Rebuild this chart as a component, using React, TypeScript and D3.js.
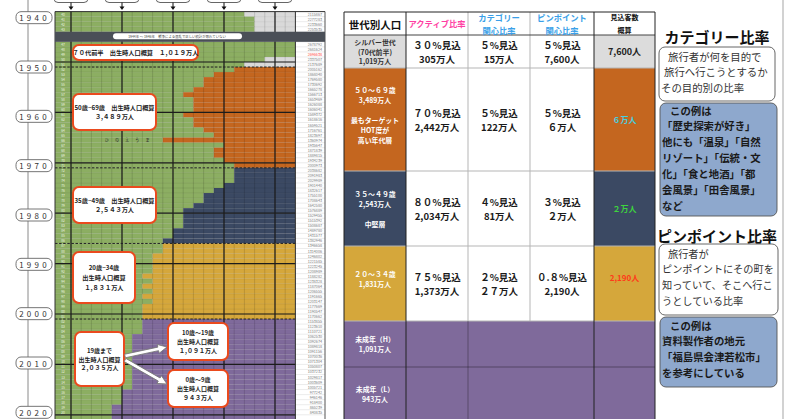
import React from 'react';
import * as d3 from 'd3';

// ---------- DATA ----------
const birthYears = [1940, 1941, 1942, 1943, 1947, 1948, 1949, 1950, 1951, 1952, 1953, 1954, 1955, 1956, 1957, 1958, 1959, 1960, 1961, 1962, 1963, 1964, 1965, 1966, 1967, 1968, 1969, 1970, 1971, 1972, 1973, 1974, 1975, 1976, 1977, 1978, 1979, 1980, 1981, 1982, 1983, 1984, 1985, 1986, 1987, 1988, 1989, 1990, 1991, 1992, 1993, 1994, 1995, 1996, 1997, 1998, 1999, 2000, 2001, 2002, 2003, 2004, 2005, 2006, 2007, 2008, 2009, 2010, 2011, 2012, 2013, 2014, 2015, 2016, 2017, 2018, 2019, 2020, 2021, 2022];
const birthCounts = [2115867, 2277283, 2233660, 2253535, 2678792, 2681624, 2696638, 2337507, 2137689, 2005162, 1868040, 1769580, 1730692, 1665278, 1566713, 1653469, 1626088, 1606041, 1589372, 1618616, 1659521, 1716761, 1823697, 1360974, 1935647, 1871839, 1889815, 1934239, 2000973, 2038682, 2091983, 2029989, 1901440, 1832617, 1755100, 1708643, 1642580, 1576889, 1529455, 1515392, 1508687, 1489780, 1431577, 1382946, 1346658, 1314006, 1246802, 1221585, 1223245, 1208989, 1188282, 1238328, 1187064, 1206555, 1191665, 1203147, 1177669, 1190547, 1170662, 1153855, 1123610, 1110721, 1062530, 1092674, 1089818, 1091156, 1070036, 1071304, 1050807, 1037232, 1029817, 1003609, 1005721, 977242, 946146, 918400, 865239, 840835, 811622, 770759];

const groupKeys = ['silver', 'g50', 'g35', 'g20', 'g0'];
const groupStart = [1940, 1952, 1972, 1987, 2002];
const groupEnd = [1951, 1971, 1986, 2001, 2022];

const yearTicks = [1940, 1950, 1960, 1970, 1980, 1990, 2000, 2010, 2020];
const hinoeumaChars = ['ひ', 'の', 'え', 'う', 'ま'];
const bandLabel = '1944年 ～ 1946年　戦争による混乱で正しい統計が取れていない';

const annoSilver = ['７０代前半　出生時人口概算　１,０１９万人'];
const anno50 = ['50歳~69歳　出生時人口概算', '３,４８９万人'];
const anno35 = ['35歳~49歳　出生時人口概算', '２,５４３万人'];
const anno20 = ['20歳~34歳', '出生時人口概算', '１,８３１万人'];
const anno0 = ['19歳まで', '出生時人口概算', '２,０３５万人'];
const anno10H = ['10歳～19歳', '出生時人口概算', '１,０９１万人'];
const anno0L = ['0歳～9歳', '出生時人口概算', '９４３万人'];

const tableHeaders = [['世代別人口'], ['アクティブ比率'], ['カテゴリー', '関心比率'], ['ピンポイント', '関心比率'], ['見込客数', '概算']];
const generationLabels = [
  ['シルバー世代', '(70代前半)', '1,019万人'],
  ['５０～６９歳', '3,489万人', '', '最もターゲット', 'HOT度が', '高い年代層', ''],
  ['３５～４９歳', '2,543万人', '', '中堅層'],
  ['２０～３４歳', '1,831万人', ''],
  ['未成年（H）', '1,091万人'],
  ['未成年（L）', '943万人'],
];
const activeRates = ['３０％見込', '７０％見込', '８０％見込', '７５％見込'];
const activeCounts = ['305万人', '2,442万人', '2,034万人', '1,373万人'];
const categoryRates = ['５%見込', '５%見込', '４%見込', '２%見込'];
const categoryCounts = ['15万人', '122万人', '81万人', '２７万人'];
const pinpointRates = ['５%見込', '５%見込', '３%見込', '０.８%見込'];
const pinpointCounts = ['7,600人', '６万人', '２万人', '2,190人'];
const prospectCounts = ['7,600人', '６万人', '２万人', '2,190人'];

const catTitle = 'カテゴリー比率';
const catDesc = ['旅行者が何を目的で', '旅行へ行こうとするか', 'その目的別の比率'];
const catExample = ['この例は', '「歴史探索が好き」', '他にも「温泉」「自然', 'リゾート」「伝統・文', '化」「食と地酒」「都', '会風景」「田舎風景」', 'など'];
const pinTitle = 'ピンポイント比率';
const pinDesc = ['旅行者が', 'ピンポイントにその町を', '知っていて、そこへ行こ', 'うとしている比率'];
const pinExample = ['この例は', '資料製作者の地元', '「福島県会津若松市」', 'を参考にしている'];

// ---------- STYLE ----------
const FONT = "'Noto Sans CJK JP', 'Noto Sans', sans-serif";
const GREEN = '#8cae62';
const groupFill: Record<string, string> = {
  silver: '#d9d9d9',
  g50: '#c4661f',
  g35: '#3b4963',
  g20: '#d5a73b',
  g0: '#7f6a9b',
};
const tableRowFill = ['#dcdcdc', '#c4661f', '#3b4963', '#d5a73b', '#7f6a9b', '#7f6a9b'];
const ANNO_RED = '#ea4a1e';

function arrowShape(x1: number, y1: number, x2: number, y2: number) {
  const L = Math.hypot(x2 - x1, y2 - y1);
  const ang = (Math.atan2(y2 - y1, x2 - x1) * 180) / Math.PI;
  const s = 1.8, h = 4.5, hl = 9;
  const pts = [[0, -s], [L - hl, -s], [L - hl, -h], [L, 0], [L - hl, h], [L - hl, s], [0, s]];
  return { pts: pts.map((p) => p.join(',')).join(' '), transform: `translate(${x1},${y1}) rotate(${ang})` };
}

function AnnoBox({ x, y, w, h, lines, gap, fs }: { x: number; y: number; w: number; h: number; lines: string[]; gap: number; fs: number }) {
  const cy = y + h / 2;
  return (
    <g>
      <rect x={x} y={y} width={w} height={h} rx={6} fill="#fff" stroke={ANNO_RED} strokeWidth={2} />
      {lines.map((t, i) => (
        <text key={i} x={x + w / 2} y={cy + (i - (lines.length - 1) / 2) * gap} textAnchor="middle" dominantBaseline="central" fontSize={fs} fontWeight={700} fill="#222">
          {t}
        </text>
      ))}
    </g>
  );
}

export default function App() {
  const rowTop = 11.6;
  const rowH = 5.04;
  const nSlots = 82;
  const slotOf = (yr: number) => (yr < 1944 ? yr - 1940 : yr - 1941);
  const y = d3.scaleLinear().domain([0, nSlots]).range([rowTop, rowTop + nSlots * rowH]);
  const x = d3.scaleLinear().domain([0, 22]).range([71, 71 + 22 * 10.2]);
  const cells = d3.scaleLinear().domain([450000, 2650000]).range([0, 22]).clamp(true);
  const yearLabelY = d3.scaleLinear().domain([1950, 2010]).range([67, 363]);
  const gridLeft = 55;
  const gridRight = x(22);
  const numRight = 325;
  const gridBottom = y(nSlots);
  const groupOf = (yr: number) => groupStart.findIndex((s, i) => yr >= s && yr <= groupEnd[i]);
  const maxCount = d3.max(birthCounts) as number;

  // table layout
  const colX = [344, 406, 468, 530, 594, 655];
  const rowY = [12, 35, 68, 171, 246, 321, 367, 421];

  const a1 = arrowShape(125, 356, 167, 347);
  const a2 = arrowShape(125, 360, 167, 384);

  return (
    <svg width={800} height={419} style={{ position: 'absolute', left: 0, top: 0, background: '#fff' }} fontFamily={FONT}>
      <rect x={0} y={0} width={800} height={419} fill="#fff" />

      {/* left decade axis */}
      <line x1={28} x2={28} y1={0} y2={419} stroke="#8a8a8a" strokeWidth={1} />
      {yearTicks.map((t) => (
        <g key={t}>
          <rect x={16} y={yearLabelY(t) - 6} width={36} height={12} rx={5} fill="#fff" stroke="#666" strokeWidth={0.9} />
          <text x={34.5} y={yearLabelY(t)} textAnchor="middle" dominantBaseline="central" fontSize={8} fill="#333" letterSpacing={3.2}>
            {String(t)}
          </text>
        </g>
      ))}

      {/* rows */}
      {birthYears.map((yr, i) => {
        const s = slotOf(yr);
        const n = Math.round(cells(birthCounts[i]));
        const g = groupKeys[groupOf(yr)];
        const showText = y(s) + rowH <= 419;
        return (
          <g key={yr}>
            <rect x={gridLeft} y={y(s)} width={x(n) - gridLeft} height={rowH} fill={GREEN} />
            <rect x={x(n)} y={y(s)} width={gridRight - x(n)} height={rowH} fill={groupFill[g]} />
            <rect x={gridRight} y={y(s)} width={numRight - gridRight} height={rowH} fill="#fff" />
            {showText && (
              <text x={63} y={y(s) + rowH / 2} textAnchor="middle" dominantBaseline="central" fontSize={3.2} fill="#eef4e4">
                {String(yr).slice(2)}
              </text>
            )}
            {showText && (
              <text x={numRight - 3} y={y(s) + rowH / 2} textAnchor="end" dominantBaseline="central" fontSize={3.7}
                fill={birthCounts[i] === maxCount ? '#ff4a3a' : '#7a7a7a'}>
                {String(birthCounts[i])}
              </text>
            )}
          </g>
        );
      })}

      {/* thin grid */}
      {d3.range(0, 23).map((k) => (
        <line key={'v' + k} x1={x(k)} x2={x(k)} y1={y(0)} y2={gridBottom} stroke="rgba(0,0,0,0.22)" strokeWidth={0.6} />
      ))}
      {d3.range(0, nSlots + 1).map((s) => (
        <line key={'h' + s} x1={gridLeft} x2={numRight} y1={y(s)} y2={y(s)} stroke="rgba(0,0,0,0.16)" strokeWidth={0.5} />
      ))}
      {/* thick grid */}
      {[0, 5, 10, 15, 20].map((k) => (
        <line key={'tv' + k} x1={x(k)} x2={x(k)} y1={y(0)} y2={gridBottom} stroke="#1c1c1c" strokeWidth={1.2} />
      ))}
      {d3.range(10, nSlots + 1, 10).map((s) => (
        <line key={'th' + s} x1={gridLeft} x2={gridRight} y1={y(s)} y2={y(s)} stroke="#1c1c1c" strokeWidth={1.2} />
      ))}
      {groupStart.slice(1).map((yr) => (
        <line key={'d' + yr} x1={gridLeft} x2={gridRight} y1={y(slotOf(yr))} y2={y(slotOf(yr))} stroke="#222" strokeWidth={1} strokeDasharray="2.5,1.6" />
      ))}
      <line x1={gridLeft} x2={gridLeft} y1={y(0)} y2={gridBottom} stroke="#333" strokeWidth={1} />
      <line x1={gridRight} x2={gridRight} y1={y(0)} y2={gridBottom} stroke="#333" strokeWidth={1} />
      <line x1={numRight} x2={numRight} y1={y(0)} y2={gridBottom} stroke="#555" strokeWidth={1} />
      <line x1={gridLeft} x2={numRight} y1={y(0)} y2={y(0)} stroke="#333" strokeWidth={1} />

      {/* war band */}
      <rect x={gridLeft} y={y(4)} width={numRight - gridLeft} height={y(6) - y(4)} fill="#4a4f57" />
      <rect x={113} y={y(4) + 1.6} width={129} height={6} rx={3} fill="#fff" />
      <text x={177} y={y(4) + 4.6} textAnchor="middle" dominantBaseline="central" fontSize={3.4} fill="#444">
        {bandLabel}
      </text>

      {/* hinoeuma */}
      {hinoeumaChars.map((c, k) => (
        <text key={c + k} x={(x(3 + k) + x(4 + k)) / 2} y={y(slotOf(1966)) + rowH / 2} textAnchor="middle" dominantBaseline="central" fontSize={4} fill="#2a2a2a">
          {c}
        </text>
      ))}

      {/* top boxes with arrows */}
      {[0, 5, 10, 15, 20].map((k) => (
        <g key={'tb' + k}>
          <rect x={x(k) - 17} y={-12} width={34} height={14.5} rx={4} fill="#fff" stroke="#555" strokeWidth={0.9} />
          <line x1={x(k)} x2={x(k)} y1={2.5} y2={7} stroke="#111" strokeWidth={1} />
          <polygon points={`${x(k) - 2.5},6.5 ${x(k) + 2.5},6.5 ${x(k)},10`} fill="#111" />
        </g>
      ))}

      {/* annotation boxes */}
      <AnnoBox x={73} y={45} w={125} h={15} lines={annoSilver} gap={9} fs={6.2} />
      <AnnoBox x={73} y={94} w={83} h={36} lines={anno50} gap={9.5} fs={6.2} />
      <AnnoBox x={73} y={187} w={83} h={36} lines={anno35} gap={9.5} fs={6.2} />
      <AnnoBox x={73} y={252} w={62} h={51} lines={anno20} gap={10} fs={6.2} />
      <AnnoBox x={75} y={332} w={49} h={54} lines={anno0} gap={8.8} fs={6} />
      <AnnoBox x={168} y={323} w={60} h={37} lines={anno10H} gap={9} fs={6} />
      <AnnoBox x={168} y={370} w={60} h={37} lines={anno0L} gap={9} fs={6} />
      {[a1, a2].map((a, i) => (
        <polygon key={'ar' + i} points={a.pts} transform={a.transform} fill="#fff" stroke="#777" strokeWidth={0.8} />
      ))}

      {/* ---------- TABLE ---------- */}
      <rect x={colX[0]} y={rowY[0]} width={colX[5] - colX[0]} height={rowY[1] - rowY[0]} fill="#fff" />
      {generationLabels.map((_, r) => (
        <g key={'tr' + r}>
          <rect x={colX[0]} y={rowY[r + 1]} width={colX[1] - colX[0]} height={rowY[r + 2] - rowY[r + 1]} fill={tableRowFill[r]} />
          <rect x={colX[1]} y={rowY[r + 1]} width={colX[4] - colX[1]} height={rowY[r + 2] - rowY[r + 1]} fill={r >= 4 ? tableRowFill[r] : '#fff'} />
          <rect x={colX[4]} y={rowY[r + 1]} width={colX[5] - colX[4]} height={rowY[r + 2] - rowY[r + 1]} fill={tableRowFill[r]} />
        </g>
      ))}
      {[2, 3, 4, 5].map((r) => (
        <line key={'ih' + r} x1={colX[0]} x2={colX[5]} y1={rowY[r]} y2={rowY[r]} stroke="#b5b5b5" strokeWidth={1} />
      ))}
      <line x1={colX[0]} x2={colX[5]} y1={rowY[6]} y2={rowY[6]} stroke="rgba(0,0,0,0.35)" strokeWidth={1} />
      <line x1={colX[2]} x2={colX[2]} y1={rowY[0]} y2={rowY[5]} stroke="#b5b5b5" strokeWidth={1} />
      <line x1={colX[3]} x2={colX[3]} y1={rowY[0]} y2={rowY[5]} stroke="#b5b5b5" strokeWidth={1} />
      <line x1={colX[2]} x2={colX[2]} y1={rowY[5]} y2={rowY[7]} stroke="rgba(0,0,0,0.3)" strokeWidth={1} />
      <line x1={colX[0]} x2={colX[5]} y1={rowY[1]} y2={rowY[1]} stroke="#444" strokeWidth={1} />
      {[0, 1, 4, 5].map((c) => (
        <line key={'ov' + c} x1={colX[c]} x2={colX[c]} y1={rowY[0]} y2={rowY[7]} stroke="#222" strokeWidth={1} />
      ))}
      <line x1={colX[0]} x2={colX[5]} y1={rowY[0]} y2={rowY[0]} stroke="#222" strokeWidth={1} />

      {tableHeaders.map((lines, c) => {
        const cx = (colX[c] + colX[c + 1]) / 2;
        const color = c === 1 ? '#ff3fa3' : c === 2 || c === 3 ? '#3a9fe8' : '#111';
        const fs = c === 0 ? 10.5 : c === 4 ? 7 : 8.3;
        const gap = 13;
        const cy = c === 0 ? 24 : c === 1 ? 22.5 : 23.5;
        return lines.map((t, i) => (
          <text key={'hd' + c + i} x={cx} y={cy + (i - (lines.length - 1) / 2) * gap} textAnchor="middle" dominantBaseline="central" fontSize={fs} fontWeight={700} fill={color}>
            {t}
          </text>
        ));
      })}

      {generationLabels.map((lines, r) => {
        const cx = (colX[0] + colX[1]) / 2;
        const cy = (rowY[r + 1] + rowY[r + 2]) / 2;
        const gap = r === 0 ? 9.5 : 10;
        return lines.map((t, i) => (
          <text key={'gl' + r + i} x={cx} y={cy + (i - (lines.length - 1) / 2) * gap} textAnchor="middle" dominantBaseline="central" fontSize={6.9} fontWeight={700} fill={r === 0 ? '#333' : '#fff'}>
            {t}
          </text>
        ));
      })}

      {[[activeRates, activeCounts], [categoryRates, categoryCounts], [pinpointRates, pinpointCounts]].map(([rates, counts], c) =>
        rates.map((rt, r) => {
          const cx = (colX[c + 1] + colX[c + 2]) / 2;
          const cy = (rowY[r + 1] + rowY[r + 2]) / 2 + 0.5;
          return (
            <g key={'dc' + c + r}>
              <text x={cx} y={cy - 6.7} textAnchor="middle" dominantBaseline="central" fontSize={9.5} fontWeight={700} fill="#1a1a1a">{rt}</text>
              <text x={cx} y={cy + 6.7} textAnchor="middle" dominantBaseline="central" fontSize={9.5} fontWeight={700} fill="#1a1a1a">{counts[r]}</text>
            </g>
          );
        })
      )}
      {prospectCounts.map((t, r) => {
        const cx = (colX[4] + colX[5]) / 2;
        const cy = r === 3 ? rowY[r + 1] + 31 : (rowY[r + 1] + rowY[r + 2]) / 2;
        const color = r === 0 ? '#222' : r === 1 ? '#45d0e0' : r === 2 ? '#3ed43e' : '#ff3a1a';
        return (
          <text key={'pc' + r} x={cx} y={cy} textAnchor="middle" dominantBaseline="central" fontSize={r === 0 ? 9 : 8} fontWeight={700} fill={color}>{t}</text>
        );
      })}

      {/* ---------- RIGHT PANEL ---------- */}
      <line x1={783} x2={783} y1={0} y2={419} stroke="#d2d2d2" strokeWidth={2} />
      <text x={717} y={36} textAnchor="middle" dominantBaseline="central" fontSize={15} fontWeight={700} fill="#111">{catTitle}</text>
      <rect x={659} y={47} width={116} height={54} rx={6} fill="#fff" stroke="#555" strokeWidth={0.9} />
      {catDesc.map((t, i) => (
        <text key={'cd' + i} x={i === 0 ? 668 : i === 1 ? 664 : 661} y={56 + i * 15.7} dominantBaseline="central" fontSize={10.4} fill="#333">{t}</text>
      ))}
      <rect x={660} y={103} width={117} height={113} rx={6} fill="#8ea8cd" stroke="#555" strokeWidth={0.9} />
      {catExample.map((t, i) => (
        <text key={'ce' + i} x={i === 0 ? 670 : 662} y={110 + i * 15.9} dominantBaseline="central" fontSize={10.4} fontWeight={700} fill="#1a1a1a">{t}</text>
      ))}
      <text x={717} y={235} textAnchor="middle" dominantBaseline="central" fontSize={15} fontWeight={700} fill="#111">{pinTitle}</text>
      <rect x={659} y={244} width={119} height={71} rx={6} fill="#fff" stroke="#555" strokeWidth={0.9} />
      {pinDesc.map((t, i) => (
        <text key={'pd' + i} x={i === 0 ? 668 : 662} y={253 + i * 15.7} dominantBaseline="central" fontSize={10.2} fill="#333">{t}</text>
      ))}
      <rect x={660} y={317} width={117} height={70} rx={6} fill="#8ea8cd" stroke="#555" strokeWidth={0.9} />
      {pinExample.map((t, i) => (
        <text key={'pe' + i} x={i === 0 ? 670 : 662} y={325 + i * 15.8} dominantBaseline="central" fontSize={10.4} fontWeight={700} fill="#1a1a1a">{t}</text>
      ))}
    </svg>
  );
}
